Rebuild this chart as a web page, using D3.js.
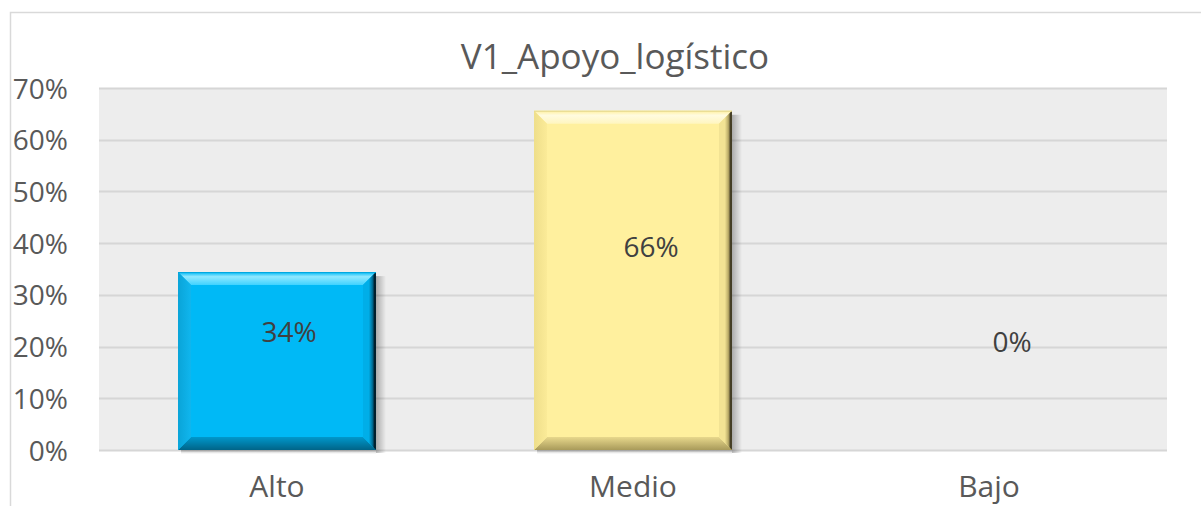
<!DOCTYPE html>
<html>
<head>
<meta charset="utf-8">
<script src="https://cdn.jsdelivr.net/npm/d3@7"></script>
<style>
  html, body { margin: 0; padding: 0; background: #ffffff; }
  svg { display: block; }
  text { font-family: "Open Sans", "Noto Sans", sans-serif; }
</style>
</head>
<body>
<svg id="chart" width="1201" height="506"></svg>
<script>
// ---- data ----
const title = "V1_Apoyo_logístico";
const categories = ["Alto", "Medio", "Bajo"];
const values = [0.344, 0.656, 0.0];
const valueLabels = ["34%", "66%", "0%"];
const yTicks = [0, 0.1, 0.2, 0.3, 0.4, 0.5, 0.6, 0.7];

// ---- layout ----
const W = 1201, H = 506;
const plot = { left: 99, right: 1167, top: 88, bottom: 450 };
// manual nudges of data labels (as in the reference)
const labelNudge = [
  { dx: 12, base: 0.209 },
  { dx: 18, base: 0.373 },
  { dx: 23, base: 0.1895 }
];
const palettes = [
  { face: "#00b9f6", top: "#3fd2ff", topHi: "#8fe8ff", left: "#10b6ee", leftEdge: "#0aa4d8",
    right: "#00aee8", rightMid: "#006f98", rightEdge: "#001a26", bottom: "#0098cc", bottomEdge: "#006488" },
  { face: "#fff09e", top: "#fff6c0", topHi: "#fffbe0", left: "#fbeb98", leftEdge: "#eede8a",
    right: "#f2e394", rightMid: "#b8aa68", rightEdge: "#3c3620", bottom: "#e8d88c", bottomEdge: "#a89a5a" },
  { face: "#a5a5a5", top: "#c0c0c0", topHi: "#e0e0e0", left: "#a0a0a0", leftEdge: "#989898",
    right: "#9a9a9a", rightMid: "#707070", rightEdge: "#202020", bottom: "#909090", bottomEdge: "#606060" }
];

const svg = d3.select("#chart");
const defs = svg.append("defs");

const x = d3.scaleBand().domain(categories).range([plot.left, plot.right])
  .paddingInner(0.444).paddingOuter(0.222);
const y = d3.scaleLinear().domain([0, 0.7]).range([plot.bottom, plot.top]);

// outer chart border (left and top)
svg.append("path")
  .attr("d", `M10.5,${H} L10.5,12.5 L${W},12.5`)
  .attr("fill", "none").attr("stroke", "#d9d9d9").attr("stroke-width", 1.5);

// plot area background
svg.append("rect")
  .attr("x", plot.left).attr("y", plot.top)
  .attr("width", plot.right - plot.left).attr("height", plot.bottom - plot.top)
  .attr("fill", "#ededed");

// grid lines
svg.append("g").selectAll("line").data(yTicks).join("line")
  .attr("x1", plot.left).attr("x2", plot.right)
  .attr("y1", d => Math.round(y(d)) + 0.5).attr("y2", d => Math.round(y(d)) + 0.5)
  .attr("stroke", "#d6d6d6").attr("stroke-width", 2);

// y axis labels
const yAxis = d3.axisLeft(y).tickValues(yTicks).tickFormat(d3.format(".0%")).tickSize(0).tickPadding(0);
const yg = svg.append("g").attr("transform", `translate(${68},0)`).call(yAxis);
yg.select(".domain").remove();
yg.selectAll("text").attr("fill", "#595959").style("font-size", "28px")
  .style("font-family", '"Open Sans", sans-serif').attr("dy", "0.36em");

// x axis labels
const xAxis = d3.axisBottom(x).tickSize(0).tickPadding(0);
const xg = svg.append("g").attr("transform", `translate(0,${497})`).call(xAxis);
xg.select(".domain").remove();
xg.selectAll("text").attr("fill", "#595959").style("font-size", "30px")
  .style("font-family", '"Open Sans", sans-serif').attr("dy", "0");

// gradients
function lg(id, x1, y1, x2, y2, stops) {
  const g = defs.append("linearGradient").attr("id", id)
    .attr("x1", x1).attr("y1", y1).attr("x2", x2).attr("y2", y2);
  stops.forEach(s => g.append("stop").attr("offset", s[0]).attr("stop-color", s[1]).attr("stop-opacity", s[2] === undefined ? 1 : s[2]));
}
palettes.forEach((p, i) => {
  lg(`top${i}`, 0, 0, 0, 1, [[0, p.face], [0.35, p.topHi], [1, p.top]]);
  lg(`bot${i}`, 0, 0, 0, 1, [[0, p.bottom], [1, p.bottomEdge]]);
  lg(`lef${i}`, 0, 0, 1, 0, [[0, p.leftEdge], [1, p.left]]);
  lg(`rig${i}`, 0, 0, 1, 0, [[0, p.right], [0.45, p.right], [0.72, p.rightMid], [0.9, p.rightEdge], [1, p.rightEdge]]);
});
lg("shadowR", 0, 0, 1, 0, [[0, "#000", 0.28], [1, "#000", 0]]);
lg("shadowB", 0, 0, 0, 1, [[0, "#000", 0.25], [1, "#000", 0]]);

// bars
const bars = svg.append("g");
categories.forEach((c, i) => {
  const v = values[i];
  if (v <= 0) return;
  const x0 = x(c), x1 = x(c) + x.bandwidth();
  const y0 = y(v), y1 = y(0);
  const p = palettes[i];
  const b = Math.min(13, (y1 - y0) / 2, (x1 - x0) / 2);
  const g = bars.append("g");
  // shadow
  g.append("rect").attr("x", x1).attr("y", y0 + 4).attr("width", 10).attr("height", y1 - y0 - 4 + 3)
    .attr("fill", "url(#shadowR)");
  g.append("rect").attr("x", x0 + 3).attr("y", y1).attr("width", x1 - x0 - 3).attr("height", 4)
    .attr("fill", "url(#shadowB)");
  // face
  g.append("rect").attr("x", x0).attr("y", y0).attr("width", x1 - x0).attr("height", y1 - y0)
    .attr("fill", p.face);
  const poly = pts => pts.map(q => q.join(",")).join(" ");
  g.append("polygon").attr("points", poly([[x0, y0], [x1, y0], [x1 - b, y0 + b], [x0 + b, y0 + b]]))
    .attr("fill", `url(#top${i})`);
  g.append("polygon").attr("points", poly([[x0, y1], [x1, y1], [x1 - b, y1 - b], [x0 + b, y1 - b]]))
    .attr("fill", `url(#bot${i})`);
  g.append("polygon").attr("points", poly([[x0, y0], [x0 + b, y0 + b], [x0 + b, y1 - b], [x0, y1]]))
    .attr("fill", `url(#lef${i})`);
  g.append("polygon").attr("points", poly([[x1, y0], [x1 - b, y0 + b], [x1 - b, y1 - b], [x1, y1]]))
    .attr("fill", `url(#rig${i})`);
  // thin top edge line
  g.append("line").attr("x1", x0).attr("x2", x1).attr("y1", y0 + 0.5).attr("y2", y0 + 0.5)
    .attr("stroke", d3.color(p.face).darker(0.3)).attr("stroke-width", 1);
});

// data labels
svg.append("g").selectAll("text").data(categories).join("text")
  .attr("x", (c, i) => x(c) + x.bandwidth() / 2 + labelNudge[i].dx)
  .attr("y", (c, i) => y(labelNudge[i].base))
  .attr("text-anchor", "middle")
  .attr("fill", "#404040")
  .style("font-size", "28px")
  .text((c, i) => valueLabels[i]);

// title
svg.append("text")
  .attr("x", 615).attr("y", 69)
  .attr("text-anchor", "middle")
  .attr("fill", "#595959")
  .style("font-size", "35px")
  .text(title);
</script>
</body>
</html>
